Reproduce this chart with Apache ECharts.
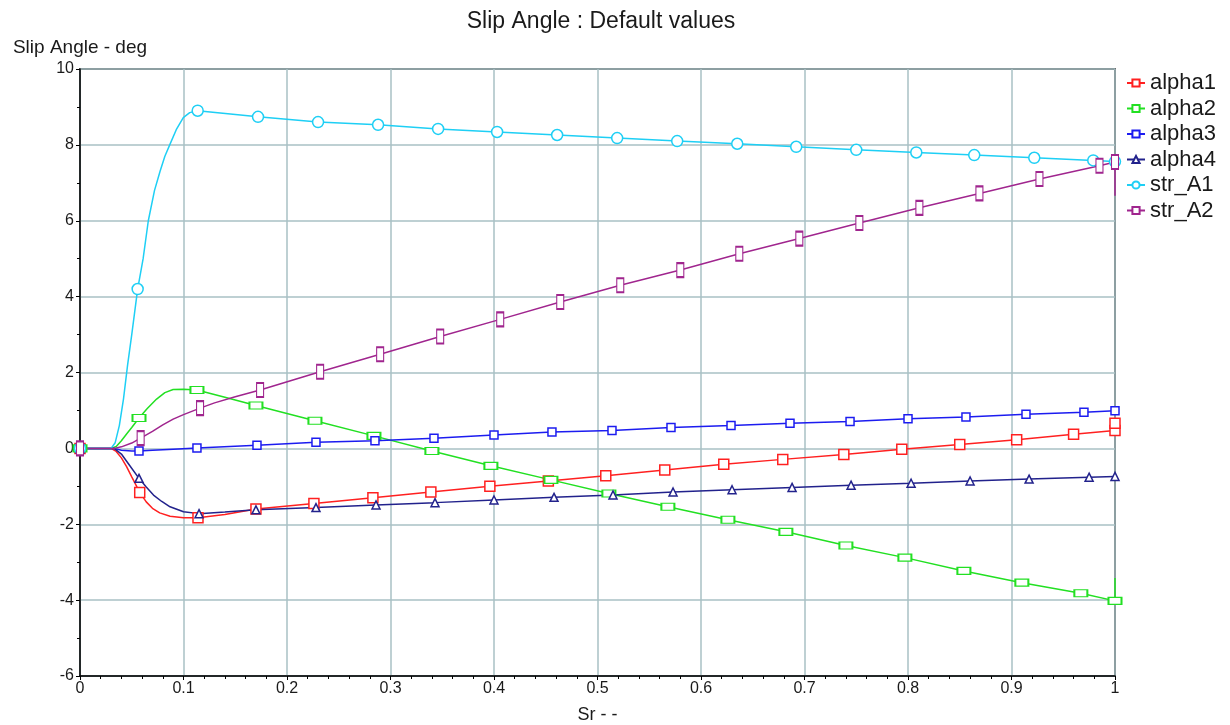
<!DOCTYPE html>
<html><head><meta charset="utf-8">
<script src="https://cdn.jsdelivr.net/npm/echarts@6/dist/echarts.min.js"></script>
<style>html,body{margin:0;padding:0;background:#fff}#c{width:1230px;height:725px}</style>
</head><body><div id="c"></div>
<script>
// [x, y, markerFlag]
const alpha1 = [[0,0,1],[0.03,0],[0.035,-0.08],[0.04,-0.25],[0.045,-0.48],[0.05,-0.75],[0.0577,-1.16,1],[0.064,-1.41],[0.07,-1.58],[0.077,-1.7],[0.087,-1.79],[0.1,-1.83],[0.114,-1.83,1],[0.14,-1.74],[0.17,-1.6,1],[0.226,-1.45,1],[0.283,-1.3,1],[0.339,-1.15,1],[0.396,-1.0,1],[0.4525,-0.86,1],[0.508,-0.72,1],[0.565,-0.57,1],[0.622,-0.42,1],[0.679,-0.29,1],[0.738,-0.16,1],[0.794,-0.02,1],[0.85,0.1,1],[0.905,0.23,1],[0.96,0.37,1],[1.0,0.47,1],[1.0,0.66,1]];
const alpha2 = [[0,0,1],[0.03,0],[0.035,0.05],[0.04,0.2],[0.045,0.38],[0.05,0.55],[0.057,0.8,1],[0.065,1.05],[0.074,1.3],[0.082,1.47],[0.09,1.55],[0.1,1.56],[0.113,1.54,1],[0.14,1.35],[0.17,1.13,1],[0.227,0.73,1],[0.284,0.33,1],[0.34,-0.07,1],[0.397,-0.46,1],[0.455,-0.83,1],[0.511,-1.19,1],[0.568,-1.54,1],[0.626,-1.88,1],[0.682,-2.2,1],[0.74,-2.56,1],[0.797,-2.88,1],[0.854,-3.23,1],[0.91,-3.54,1],[0.967,-3.82,1],[1.0,-4.02,1],[1.0,-3.42]];
const alpha3 = [[0,0,1],[0.033,0],[0.04,-0.05],[0.05,-0.07],[0.057,-0.07,1],[0.07,-0.05],[0.09,-0.02],[0.113,0.01,1],[0.171,0.08,1],[0.228,0.16,1],[0.285,0.2,1],[0.342,0.27,1],[0.4,0.35,1],[0.456,0.43,1],[0.514,0.47,1],[0.571,0.55,1],[0.629,0.6,1],[0.686,0.66,1],[0.744,0.71,1],[0.8,0.78,1],[0.856,0.83,1],[0.914,0.9,1],[0.97,0.95,1],[1.0,0.99,1]];
const alpha4 = [[0,0,1],[0.033,0],[0.04,-0.15],[0.048,-0.45],[0.057,-0.79,1],[0.064,-1.02],[0.071,-1.23],[0.079,-1.4],[0.087,-1.54],[0.1,-1.67],[0.115,-1.72,1],[0.14,-1.68],[0.17,-1.62,1],[0.228,-1.56,1],[0.286,-1.49,1],[0.343,-1.43,1],[0.4,-1.36,1],[0.458,-1.29,1],[0.515,-1.23,1],[0.573,-1.15,1],[0.63,-1.09,1],[0.688,-1.03,1],[0.745,-0.97,1],[0.803,-0.92,1],[0.86,-0.86,1],[0.917,-0.81,1],[0.975,-0.76,1],[1.0,-0.74,1]];
const strA1 = [[0,0,1],[0.03,0],[0.034,0.15],[0.038,0.6],[0.042,1.3],[0.046,2.2],[0.05,3.0],[0.0557,4.2,1],[0.061,5.0],[0.066,6.0],[0.072,6.8],[0.0773,7.3],[0.082,7.7],[0.087,8.02],[0.093,8.4],[0.0998,8.72],[0.106,8.85],[0.1137,8.9,1],[0.172,8.74,1],[0.23,8.6,1],[0.288,8.53,1],[0.346,8.42,1],[0.403,8.34,1],[0.461,8.26,1],[0.519,8.18,1],[0.577,8.1,1],[0.635,8.03,1],[0.692,7.95,1],[0.75,7.87,1],[0.808,7.8,1],[0.864,7.73,1],[0.922,7.66,1],[0.979,7.59,1],[1.0,7.56,1]];
const strA2 = [[0,0,1],[0.033,0],[0.04,0.04],[0.05,0.14],[0.0586,0.27,1],[0.07,0.45],[0.08,0.62],[0.09,0.77],[0.1,0.89],[0.116,1.06,1],[0.13,1.2],[0.15,1.36],[0.174,1.54,1],[0.232,2.02,1],[0.29,2.48,1],[0.348,2.95,1],[0.406,3.4,1],[0.464,3.86,1],[0.522,4.3,1],[0.58,4.7,1],[0.637,5.13,1],[0.695,5.53,1],[0.753,5.94,1],[0.811,6.34,1],[0.869,6.72,1],[0.927,7.1,1],[0.985,7.45,1],[1.0,7.55,1],[1.0,6.66]];

const seriesNames = ['alpha1','alpha2','alpha3','alpha4','str_A1','str_A2'];
const titleText = 'Slip Angle : Default values';
const yName = 'Slip Angle - deg';
const xName = 'Sr - -';

const FONT = 'Liberation Sans, Arial, sans-serif';
const TXT = '#1a1a1a';

function build(name, pts, color, symbol, size) {
  return {
    name: name, type: 'line',
    data: pts.map(p => ({ value: [p[0], p[1]], symbol: p[2] ? symbol : 'none' })),
    symbol: symbol, symbolSize: size, showAllSymbol: true,
    lineStyle: { color: color, width: 1.5 },
    itemStyle: { color: '#fff', borderColor: color, borderWidth: 1.5 },
    emphasis: { disabled: true },
    animation: false
  };
}

const chart = echarts.init(document.getElementById('c'));
chart.setOption({
  backgroundColor: '#fff',
  animation: false,
  title: {
    text: titleText, left: 596, top: 5, textAlign: 'center',
    textStyle: { fontFamily: FONT, fontSize: 23, fontWeight: 'normal', color: TXT }
  },
  legend: {
    orient: 'vertical', left: 1121, top: 67,
    itemWidth: 18, itemHeight: 9, itemGap: 3.5,
    textStyle: { fontFamily: FONT, fontSize: 22, color: TXT, padding: [0,0,0,0] },
    data: seriesNames
  },
  grid: { left: 80, right: 115, top: 69, bottom: 49, show: true, borderColor: '#000', borderWidth: 1.5, backgroundColor: 'transparent', containLabel: false, outerBoundsMode: 'none' },
  xAxis: {
    type: 'value', min: 0, max: 1, interval: 0.1,
    name: xName, nameLocation: 'middle', nameGap: 30,
    nameTextStyle: { fontFamily: FONT, fontSize: 18, color: TXT },
    axisLine: { onZero: false, lineStyle: { color: '#000', width: 1.5 } },
    axisTick: { show: true, length: 4, lineStyle: { color: '#000' } },
    minorTick: { show: true, splitNumber: 5, length: 3, lineStyle: { color: '#000' } },
    axisLabel: { fontFamily: FONT, fontSize: 16, color: TXT, margin: 5 },
    splitLine: { show: true, lineStyle: { color: '#a9c0c5', width: 1.5 } }
  },
  yAxis: {
    type: 'value', min: -6, max: 10, interval: 2,
    name: yName, nameLocation: 'end', nameGap: 12,
    nameTextStyle: { fontFamily: FONT, fontSize: 19, color: TXT },
    axisLine: { onZero: false, lineStyle: { color: '#000', width: 1.5 } },
    axisTick: { show: true, length: 4, lineStyle: { color: '#000' } },
    minorTick: { show: true, splitNumber: 2, length: 3, lineStyle: { color: '#000' } },
    axisLabel: { fontFamily: FONT, fontSize: 16, color: TXT, margin: 6 },
    splitLine: { show: true, lineStyle: { color: '#a9c0c5', width: 1.5 } }
  },
  series: [
    build('alpha1', alpha1, '#ff2020', 'rect', [10, 10]),
    build('alpha2', alpha2, '#22e022', 'rect', [13, 7]),
    build('alpha3', alpha3, '#1c1cf0', 'rect', [8, 8]),
    build('alpha4', alpha4, '#22228c', 'triangle', [8, 8]),
    build('str_A1', strA1, '#1ecff5', 'circle', 11),
    build('str_A2', strA2, '#a0258e', 'rect', [7, 14])
  ]
});
</script></body></html>
